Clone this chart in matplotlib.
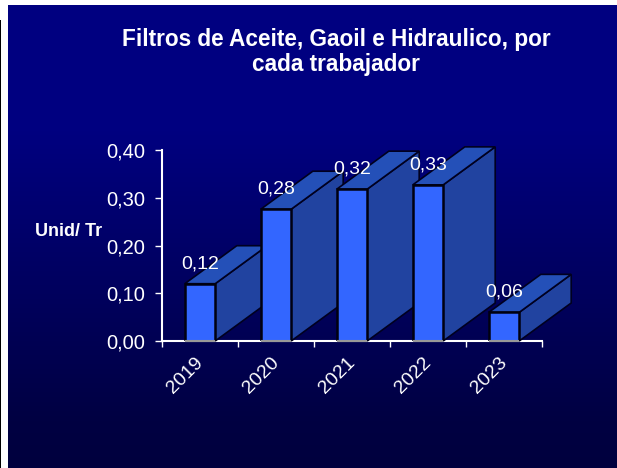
import numpy as np
from matplotlib import pyplot as plt
from matplotlib.patches import Polygon

plt.rcParams['font.family'] = ['Liberation Sans', 'DejaVu Sans']

years = ['2019', '2020', '2021', '2022', '2023']
values = [0.12, 0.276, 0.318, 0.327, 0.06]
value_labels = ['0,12', '0,28', '0,32', '0,33', '0,06']
y_ticks = [0.0, 0.1, 0.2, 0.3, 0.4]
y_tick_labels = ['0,00', '0,10', '0,20', '0,30', '0,40']

W, H = 617, 468
fig = plt.figure(figsize=(W / 100, H / 100), dpi=100, facecolor='white')

# background gradient panel, navy down to the chart then darker
bg = fig.add_axes([8 / W, 0, (W - 8) / W, (H - 5) / H])
rows = np.arange(5, H)
blue = np.interp(rows, [5, 130, 420, H], [128, 128, 66, 62]) / 255
grad = np.dstack([np.zeros_like(blue), np.zeros_like(blue), blue]).reshape(-1, 1, 3)
bg.imshow(grad, aspect='auto')
bg.axis('off')

# thin black strip on the far left
fig.add_artist(plt.Rectangle((0, 0), 1 / W, (H - 20) / H, fc='black', lw=0,
                             transform=fig.transFigure))

ax = fig.add_axes([162 / W, (H - 341) / H, 380 / W, 191 / H])
ax.patch.set_alpha(0)
ax.set_xlim(-0.5, 4.5)
ax.set_ylim(0, 0.4)

bar_w = 0.4
depth_x = 52 / 76
depth_y = 38 / 477.5
front = '#3366FF'
side = '#2143A0'
top = '#2450B8'

for i, v in enumerate(values):
    l, r = i - bar_w / 2, i + bar_w / 2
    ax.add_patch(Polygon([(r, 0), (r + depth_x, depth_y), (r + depth_x, v + depth_y), (r, v)],
                         closed=True, fc=side, ec='#000020', lw=1.2, clip_on=False, zorder=2 + i))
    ax.add_patch(Polygon([(l, v), (l + depth_x, v + depth_y), (r + depth_x, v + depth_y), (r, v)],
                         closed=True, fc=top, ec='#000020', lw=1.2, clip_on=False, zorder=2 + i))
    ax.bar(i, v, width=bar_w, color=front, edgecolor='#000010', linewidth=1.8, zorder=2 + i)
    ax.hlines(0, l, r, color='#999999', lw=1.5, zorder=15, clip_on=False)

for i, (v, lab) in enumerate(zip(values, value_labels)):
    ax.annotate(lab, (i, v), xytext=(0, 14.4), textcoords='offset points', ha='center', va='center',
                color='white', fontsize=14, zorder=20, annotation_clip=False)

for s in ['top', 'right']:
    ax.spines[s].set_visible(False)
for s in ['left', 'bottom']:
    ax.spines[s].set_color('white')
    ax.spines[s].set_linewidth(1.5)
    ax.spines[s].set_zorder(1)

ax.set_yticks(y_ticks)
ax.set_yticklabels(y_tick_labels)
ax.tick_params(axis='y', colors='white', labelsize=14.5, length=5, width=1, pad=7)
ax.set_xticks(np.arange(-0.5, 5))
ax.set_xticklabels([])
ax.tick_params(axis='x', colors='white', length=4, width=1)

for i, year in enumerate(years):
    ax.annotate(year, (i, 0), xytext=(-10.8, -25), textcoords='offset points', rotation=45,
                ha='center', va='center', color='white', fontsize=14, annotation_clip=False)

fig.text(68.5 / W, 1 - 231.5 / H, 'Unid/ Tr', color='white', fontsize=13, fontweight='bold',
         ha='center', va='center')
fig.text(336 / W, 1 - 52 / H, 'Filtros de Aceite, Gaoil e Hidraulico, por\ncada trabajador',
         color='white', fontsize=16.3, fontweight='bold', ha='center', va='center', linespacing=1.15)

fig.savefig('out.png', dpi=100, facecolor='white')
